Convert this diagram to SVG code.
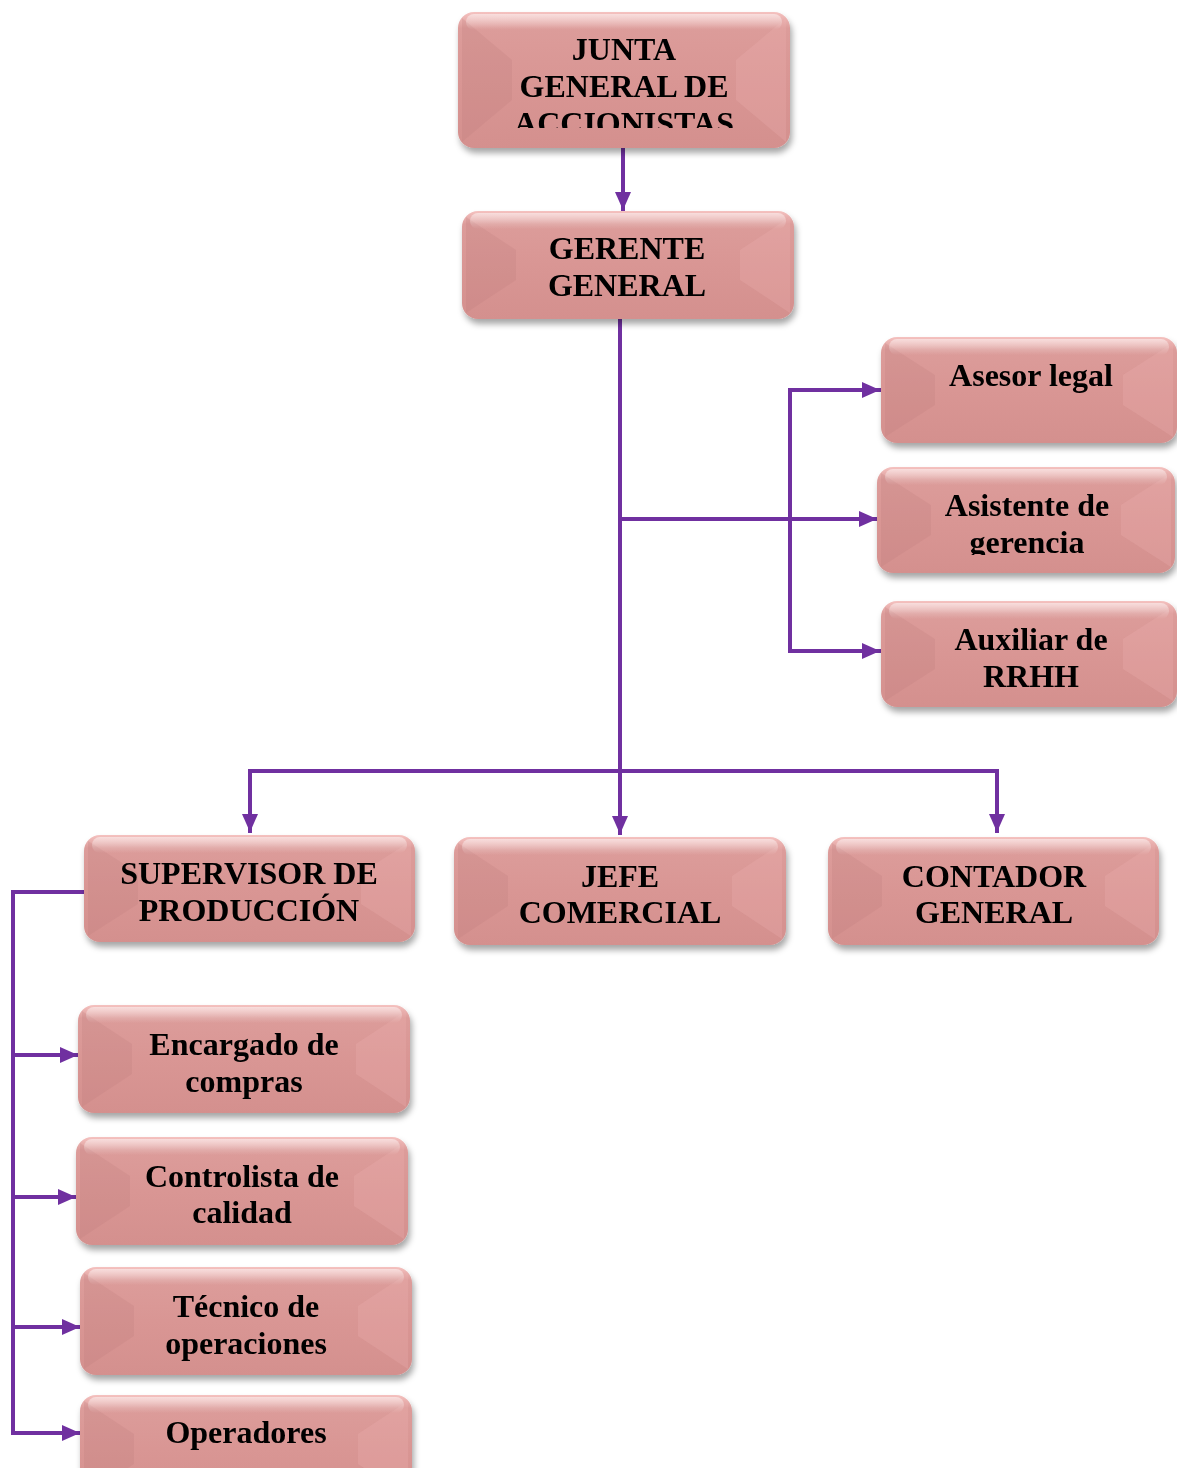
<svg xmlns="http://www.w3.org/2000/svg" width="1177" height="1468" viewBox="0 0 1177 1468">
  <defs>
    <style>
      .box { fill: url(#boxFill); }
      .shine { fill: url(#topShine); }
      .bevL { fill: #b87876; opacity: 0.2; }
      .bevR { fill: #f0b4b2; opacity: 0.25; }
      .lbl { font-family: "Liberation Serif", "Times New Roman", serif; font-weight: bold; font-size: 32px; fill: #000; text-anchor: middle; }
      .wire { fill: none; stroke: #7030A0; stroke-width: 4; stroke-linecap: square; stroke-linejoin: miter; }
      .arr { marker-end: url(#tip); }
    </style>
    <linearGradient id="boxFill" x1="0" y1="0" x2="0" y2="1">
      <stop offset="0" stop-color="#f5c2c0"/>
      <stop offset="0.12" stop-color="#dc9c9a"/>
      <stop offset="0.5" stop-color="#d99694"/>
      <stop offset="1" stop-color="#d4908e"/>
    </linearGradient>
    <linearGradient id="topShine" x1="0" y1="0" x2="0" y2="1">
      <stop offset="0" stop-color="#ffffff" stop-opacity="0.5"/>
      <stop offset="1" stop-color="#ffffff" stop-opacity="0"/>
    </linearGradient>
    <filter id="shadow" x="-10%" y="-10%" width="125%" height="135%">
      <feDropShadow dx="2" dy="5" stdDeviation="3" flood-color="#000" flood-opacity="0.35"/>
    </filter>
    <marker id="tip" markerUnits="userSpaceOnUse" markerWidth="20" markerHeight="20" refX="17" refY="10" orient="auto">
      <path d="M0,2 L18,10 L0,18 z" fill="#7030A0"/>
    </marker>
    <clipPath id="clipJunta"><rect x="458" y="12" width="332" height="116"/></clipPath>
    <clipPath id="clipAsist"><rect x="877" y="467" width="298" height="88"/></clipPath>
  </defs>

  <!-- connectors -->
  <g id="connectors">
    <path class="wire arr" d="M623 150 V209"/>
    <path class="wire arr" d="M620 321 V833"/>
    <path class="wire arr" d="M620 519 H876"/>
    <path class="wire" d="M790 390 V651"/>
    <path class="wire arr" d="M790 390 H879"/>
    <path class="wire arr" d="M790 651 H879"/>
    <path class="wire" d="M250 771 H997"/>
    <path class="wire arr" d="M250 771 V831"/>
    <path class="wire arr" d="M997 771 V831"/>
    <path class="wire" d="M83 892 H13 V1433"/>
    <path class="wire arr" d="M13 1055 H77"/>
    <path class="wire arr" d="M13 1197 H75"/>
    <path class="wire arr" d="M13 1327 H79"/>
    <path class="wire arr" d="M13 1433 H79"/>
  </g>

  <!-- nodes -->
  <g id="junta" filter="url(#shadow)">
    <rect class="box" x="458" y="12" width="332" height="136" rx="16"/>
    <path class="bevL" d="M462 18 L512 60 L512 100 L462 142 z"/>
    <path class="bevR" d="M786 18 L736 60 L736 100 L786 142 z"/>
    <rect class="shine" x="466" y="14" width="316" height="16" rx="8"/>
    <g clip-path="url(#clipJunta)">
      <text class="lbl" x="624" y="60">JUNTA</text>
      <text class="lbl" x="624" y="97">GENERAL DE</text>
      <text class="lbl" x="624" y="134">ACCIONISTAS</text>
    </g>
  </g>

  <g id="gerente" filter="url(#shadow)">
    <rect class="box" x="462" y="211" width="332" height="108" rx="16"/>
    <path class="bevL" d="M466 217 L516 250 L516 280 L466 313 z"/>
    <path class="bevR" d="M790 217 L740 250 L740 280 L790 313 z"/>
    <rect class="shine" x="470" y="213" width="316" height="16" rx="8"/>
    <text class="lbl" x="627" y="259">GERENTE</text>
    <text class="lbl" x="627" y="296">GENERAL</text>
  </g>

  <g id="asesor" filter="url(#shadow)">
    <rect class="box" x="881" y="337" width="296" height="106" rx="16"/>
    <path class="bevL" d="M885 343 L935 375 L935 405 L885 437 z"/>
    <path class="bevR" d="M1173 343 L1123 375 L1123 405 L1173 437 z"/>
    <rect class="shine" x="889" y="339" width="280" height="16" rx="8"/>
    <text class="lbl" x="1031" y="386">Asesor legal</text>
  </g>

  <g id="asistente" filter="url(#shadow)">
    <rect class="box" x="877" y="467" width="298" height="106" rx="16"/>
    <path class="bevL" d="M881 473 L931 505 L931 535 L881 567 z"/>
    <path class="bevR" d="M1171 473 L1121 505 L1121 535 L1171 567 z"/>
    <rect class="shine" x="885" y="469" width="282" height="16" rx="8"/>
    <g clip-path="url(#clipAsist)">
      <text class="lbl" x="1027" y="516">Asistente de</text>
      <text class="lbl" x="1027" y="553">gerencia</text>
    </g>
  </g>

  <g id="auxiliar" filter="url(#shadow)">
    <rect class="box" x="881" y="601" width="296" height="106" rx="16"/>
    <path class="bevL" d="M885 607 L935 639 L935 669 L885 701 z"/>
    <path class="bevR" d="M1173 607 L1123 639 L1123 669 L1173 701 z"/>
    <rect class="shine" x="889" y="603" width="280" height="16" rx="8"/>
    <text class="lbl" x="1031" y="650">Auxiliar de</text>
    <text class="lbl" x="1031" y="687">RRHH</text>
  </g>

  <g id="supervisor" filter="url(#shadow)">
    <rect class="box" x="84" y="835" width="331" height="107" rx="16"/>
    <path class="bevL" d="M88 841 L138 873 L138 904 L88 936 z"/>
    <path class="bevR" d="M411 841 L361 873 L361 904 L411 936 z"/>
    <rect class="shine" x="92" y="837" width="315" height="16" rx="8"/>
    <text class="lbl" x="249" y="884">SUPERVISOR DE</text>
    <text class="lbl" x="249" y="921">PRODUCCIÓN</text>
  </g>

  <g id="jefe" filter="url(#shadow)">
    <rect class="box" x="454" y="837" width="332" height="108" rx="16"/>
    <path class="bevL" d="M458 843 L508 876 L508 906 L458 939 z"/>
    <path class="bevR" d="M782 843 L732 876 L732 906 L782 939 z"/>
    <rect class="shine" x="462" y="839" width="316" height="16" rx="8"/>
    <text class="lbl" x="620" y="887">JEFE</text>
    <text class="lbl" x="620" y="923">COMERCIAL</text>
  </g>

  <g id="contador" filter="url(#shadow)">
    <rect class="box" x="828" y="837" width="331" height="108" rx="16"/>
    <path class="bevL" d="M832 843 L882 876 L882 906 L832 939 z"/>
    <path class="bevR" d="M1155 843 L1105 876 L1105 906 L1155 939 z"/>
    <rect class="shine" x="836" y="839" width="315" height="16" rx="8"/>
    <text class="lbl" x="994" y="887">CONTADOR</text>
    <text class="lbl" x="994" y="923">GENERAL</text>
  </g>

  <g id="encargado" filter="url(#shadow)">
    <rect class="box" x="78" y="1005" width="332" height="108" rx="16"/>
    <path class="bevL" d="M82 1011 L132 1044 L132 1074 L82 1107 z"/>
    <path class="bevR" d="M406 1011 L356 1044 L356 1074 L406 1107 z"/>
    <rect class="shine" x="86" y="1007" width="316" height="16" rx="8"/>
    <text class="lbl" x="244" y="1055">Encargado de</text>
    <text class="lbl" x="244" y="1092">compras</text>
  </g>

  <g id="controlista" filter="url(#shadow)">
    <rect class="box" x="76" y="1137" width="332" height="108" rx="16"/>
    <path class="bevL" d="M80 1143 L130 1176 L130 1206 L80 1239 z"/>
    <path class="bevR" d="M404 1143 L354 1176 L354 1206 L404 1239 z"/>
    <rect class="shine" x="84" y="1139" width="316" height="16" rx="8"/>
    <text class="lbl" x="242" y="1187">Controlista de</text>
    <text class="lbl" x="242" y="1223">calidad</text>
  </g>

  <g id="tecnico" filter="url(#shadow)">
    <rect class="box" x="80" y="1267" width="332" height="108" rx="16"/>
    <path class="bevL" d="M84 1273 L134 1306 L134 1336 L84 1369 z"/>
    <path class="bevR" d="M408 1273 L358 1306 L358 1336 L408 1369 z"/>
    <rect class="shine" x="88" y="1269" width="316" height="16" rx="8"/>
    <text class="lbl" x="246" y="1317">Técnico de</text>
    <text class="lbl" x="246" y="1354">operaciones</text>
  </g>

  <g id="operadores" filter="url(#shadow)">
    <rect class="box" x="80" y="1395" width="332" height="108" rx="16"/>
    <path class="bevL" d="M84 1401 L134 1434 L134 1464 L84 1497 z"/>
    <path class="bevR" d="M408 1401 L358 1434 L358 1464 L408 1497 z"/>
    <rect class="shine" x="88" y="1397" width="316" height="16" rx="8"/>
    <text class="lbl" x="246" y="1443">Operadores</text>
  </g>
</svg>
